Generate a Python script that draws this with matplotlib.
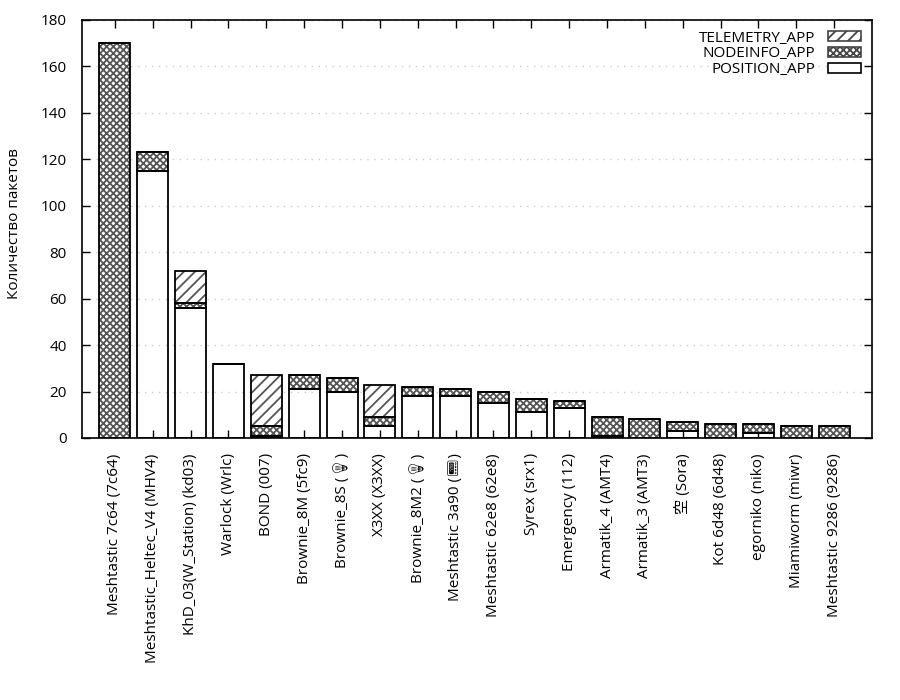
import numpy as np
import matplotlib.pyplot as plt
from matplotlib.patches import Patch

# -----------------------------
# data
# -----------------------------
nodes = [
    "Meshtastic 7c64 (7c64)",
    "Meshtastic_Heltec_V4 (MHV4)",
    "KhD_03(W_Station) (kd03)",
    "Warlock (Wrlc)",
    "BOND (007)",
    "Brownie_8M (5fc9)",
    "Brownie_8S (\U0001F4A1)",
    "X3XX (X3XX)",
    "Brownie_8M2 (\U0001F4A1)",
    "Meshtastic 3a90 (\U0001F4DF)",
    "Meshtastic 62e8 (62e8)",
    "Syrex (srx1)",
    "Emergency (112)",
    "Armatik_4 (AMT4)",
    "Armatik_3 (AMT3)",
    "空 (Sora)",
    "Kot 6d48 (6d48)",
    "egorniko (niko)",
    "Miamiworm (miwr)",
    "Meshtastic 9286 (9286)",
]
position_app = [0, 115, 56, 32, 1, 21, 20, 5, 18, 18, 15, 11, 13, 1, 0, 3, 0, 2, 0, 0]
nodeinfo_app = [170, 8, 2, 0, 4, 6, 6, 4, 4, 3, 5, 6, 3, 8, 8, 4, 6, 4, 5, 5]
telemetry_app = [0, 0, 14, 0, 22, 0, 0, 14, 0, 0, 0, 0, 0, 0, 0, 0, 0, 0, 0, 0]

plt.rcParams['font.family'] = ['Open Sans', 'Noto Emoji', 'Noto Sans CJK JP', 'DejaVu Sans']
plt.rcParams['font.size'] = 11
plt.rcParams['hatch.linewidth'] = 1.3

fig = plt.figure(figsize=(9, 7), dpi=100)
ax = fig.add_axes([82 / 900, 1 - 438 / 700, 790 / 900, 418 / 700])

x = np.arange(len(nodes))
w = 0.82
pos = np.array(position_app)
node = np.array(nodeinfo_app)
tel = np.array(telemetry_app)


def stack(vals, bottom, hatch):
    # hatch layer in gray, then black outline on top
    if hatch:
        ax.bar(x, vals, w, bottom=bottom, color="white", edgecolor="#555555",
               hatch=hatch, linewidth=0, zorder=2)
    ax.bar(x, vals, w, bottom=bottom, fill=False, edgecolor="black",
           linewidth=1.3, zorder=3)


stack(pos, 0, None)
stack(node, pos, "xxxxx")
stack(tel, pos + node, "///")

handles = [
    Patch(facecolor="white", edgecolor="#444444", hatch="///", linewidth=1.2),
    Patch(facecolor="white", edgecolor="#444444", hatch="xxxxx", linewidth=1.2),
    Patch(facecolor="white", edgecolor="black", linewidth=1.2),
]
ax.legend(handles, ["TELEMETRY_APP", "NODEINFO_APP", "POSITION_APP"],
          loc="upper right", frameon=False, markerfirst=False,
          handlelength=2.2, handleheight=0.6, labelspacing=0.05,
          handletextpad=0.8, borderaxespad=0.3)

ax.set_xlim(-0.87, 20.0)
ax.set_ylim(0, 180)
ax.set_yticks(np.arange(0, 181, 20))
ax.set_xticks(x)
ax.set_xticklabels(nodes, rotation=90, ha="center", va="top")
ax.tick_params(direction="in", top=True, right=True, length=6, width=1, pad=11)
ax.yaxis.grid(True, linestyle=(0, (1, 4)), color="#cccccc", linewidth=1)
ax.set_axisbelow(True)
for s in ax.spines.values():
    s.set_linewidth(1.2)
ax.set_ylabel("Количество пакетов", va="center", ha="center")
ax.yaxis.set_label_coords(-0.086, 0.514)

fig.savefig("out.png", dpi=100)
